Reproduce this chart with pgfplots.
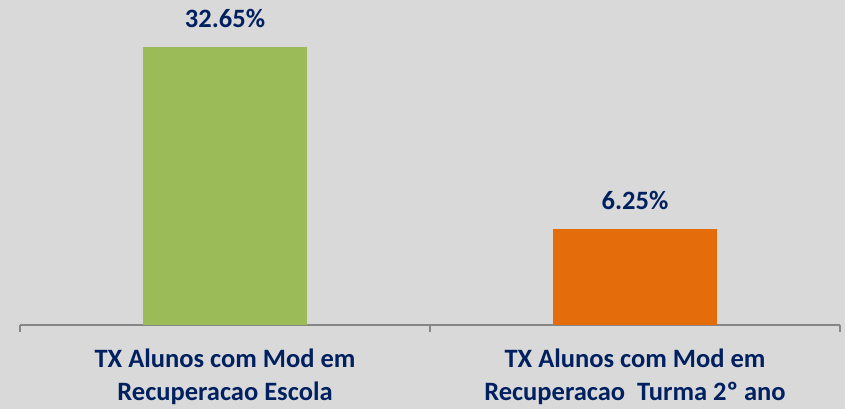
\documentclass[border=0pt]{standalone}
\usepackage{pgfplots}
\pgfplotsset{compat=1.18}
\usepackage{fontspec}
\setmainfont{Carlito}
\definecolor{bg}{HTML}{D9D9D9}
\definecolor{barG}{HTML}{9BBB59}
\definecolor{barO}{HTML}{E46C0A}
\definecolor{txt}{HTML}{002060}
\definecolor{axisgray}{HTML}{868686}
\begin{document}
\begin{tikzpicture}[x=1pt,y=1pt]
\fill[bg] (0,0) rectangle (845,409);
\useasboundingbox (0,0) rectangle (845,409);
\begin{axis}[
  at={(20pt,84pt)}, anchor=south west,
  scale only axis, width=820pt, height=325pt,
  xmin=-0.5, xmax=1.5, ymin=-7.68, ymax=39.46,
  y coord trafo/.code={\pgfmathparse{#1+7.68}},
  y coord inv trafo/.code={\pgfmathparse{#1-7.68}},
  axis y line=none, axis x line*=bottom,
  axis line style={axisgray, line width=1.5pt},
  xtick={-0.5,0.5,1.5}, xticklabels={},
  tick align=outside, major tick length=7pt,
  tick style={axisgray, line width=1.5pt},
  extra x ticks={0,1},
  extra x tick labels={{TX Alunos com Mod em\\Recuperacao Escola},{TX Alunos com Mod em\\Recuperacao\ \ Turma 2º ano}},
  extra x tick style={major tick length=0pt, tick label style={align=center, font=\fontsize{26.5}{33}\selectfont\bfseries, text=txt, yshift=-20pt}},
  clip=false,
  bar width=164pt,
  point meta=explicit,
  /pgf/number format/assume math mode=true,
  nodes near coords={\pgfmathprintnumber[fixed,precision=2,fixed zerofill,assume math mode=true]{\pgfplotspointmeta}\%},
  every node near coord/.append style={font=\fontsize{26.5}{31}\selectfont\bfseries, text=txt, anchor=base, yshift=19pt},
]
\addplot[ybar, bar shift=0pt, fill=barG, draw=none] coordinates {(0,32.65) [32.65]};
\addplot[ybar, bar shift=0pt, fill=barO, draw=none] coordinates {(1,6.25) [6.25]};
\end{axis}
\end{tikzpicture}
\end{document}
